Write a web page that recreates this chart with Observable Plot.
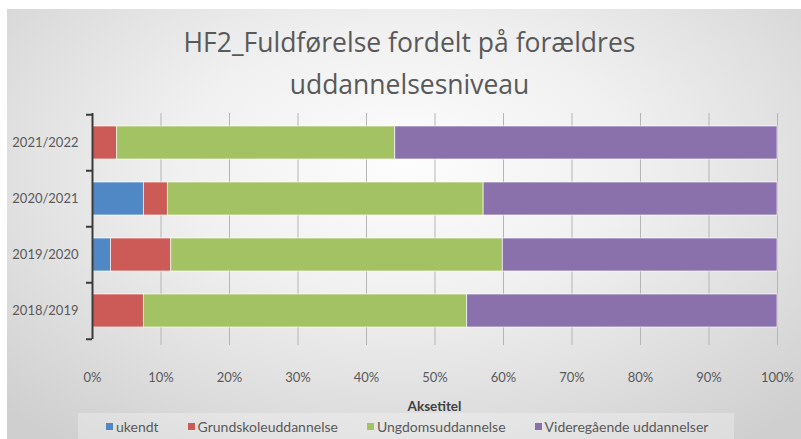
<!DOCTYPE html>
<html>
<head>
<meta charset="utf-8">
<script src="https://cdn.jsdelivr.net/npm/d3@7"></script>
<script src="https://cdn.jsdelivr.net/npm/@observablehq/plot@0.6"></script>
<style>
  html, body { margin: 0; padding: 0; background: #ffffff; }
  #wrap { position: relative; width: 801px; height: 439px; overflow: hidden; background: #fff; font-family: Lato, "Liberation Sans", sans-serif; }
  #bg { position: absolute; left: 7px; top: 9px; right: 0; bottom: 0;
        background: radial-gradient(ellipse 72% 80% at 50% 36%, #fdfdfd 0%, #f0f0f0 40%, #cfcfcf 100%); }
  #chart { position: absolute; left: 0; top: 0; }
  #title { position: absolute; left: 9px; width: 801px; top: 21px; text-align: center; font-family: "Open Sans", Lato, sans-serif; font-size: 26.5px; line-height: 42px; color: #595959; }
  #xlabel { position: absolute; left: 92px; width: 685px; top: 398px; text-align: center; font-size: 13.5px; font-weight: bold; color: #404040; }
  #legend { position: absolute; left: 78px; top: 413px; width: 656px; height: 26px; background: rgba(255,255,255,0.28); }
  #legend .items { position: absolute; left: 28px; top: 5px; display: flex; gap: 29px; font-size: 14px; color: #595959; white-space: nowrap; }
  #legend .item { display: flex; align-items: center; gap: 3px; }
  #legend .sw { width: 7px; height: 7px; display: inline-block; }
</style>
</head>
<body>
<div id="wrap">
  <div id="bg"></div>
  <div id="chart"></div>
  <div id="title">HF2_Fuldførelse fordelt på forældres<br>uddannelsesniveau</div>
  <div id="xlabel">Aksetitel</div>
  <div id="legend"><div class="items"></div></div>
</div>
<script>
// Categories (top to bottom)
const years = ["2021/2022", "2020/2021", "2019/2020", "2018/2019"];
// Series (stack order, left to right)
const series = ["ukendt", "Grundskoleuddannelse", "Ungdomsuddannelse", "Videregående uddannelser"];
const colors = ["#5088c6", "#cc5a57", "#a3c264", "#8a71ab"];
// Values in percent, same order as years
const ukendt = [0, 7.5, 2.7, 0];
const grundskole = [3.6, 3.5, 8.8, 7.5];
const ungdom = [40.6, 46.1, 48.4, 47.2];
const videregaaende = [55.8, 42.9, 40.1, 45.3];
// Tick labels for the x axis
const xTicks = [0, 10, 20, 30, 40, 50, 60, 70, 80, 90, 100];

const valuesBySeries = [ukendt, grundskole, ungdom, videregaaende];
const data = [];
series.forEach((s, si) => {
  years.forEach((y, yi) => {
    data.push({ year: y, series: s, value: valuesBySeries[si][yi] });
  });
});

const plot = Plot.plot({
  width: 801,
  height: 439,
  marginLeft: 92,
  marginRight: 24,
  marginTop: 113,
  marginBottom: 100,
  style: { background: "transparent", fontFamily: "Lato, 'Liberation Sans', sans-serif", fontSize: "13px", color: "#595959" },
  x: { domain: [0, 100] },
  y: { domain: years, paddingInner: 0.416, paddingOuter: 0.208 },
  color: { domain: series, range: colors },
  marks: [
    Plot.ruleX(xTicks.slice(1), { x: d => d, stroke: "#b5b5b5", strokeWidth: 1, insetBottom: -6 }),
    Plot.barX(data, Plot.stackX({
      x: "value", y: "year", fill: "series", order: series,
      filter: d => d.value > 0,
      stroke: "#ffffff", strokeWidth: 0.8, strokeOpacity: 0.8
    })),
    Plot.ruleX([0], { x: d => d, stroke: "#3a3a3a", strokeWidth: 2 }),
    Plot.ruleY(years, { y: d => d, x1: 0, x2: 0, insetLeft: -6, dy: -28.25, stroke: "#3a3a3a", strokeWidth: 2 }),
    Plot.ruleY(years.slice(-1), { y: d => d, x1: 0, x2: 0, insetLeft: -6, dy: 28.25, stroke: "#3a3a3a", strokeWidth: 2 }),
    Plot.axisY({ tickSize: 0, tickPadding: 14, label: null, fontSize: 13, fill: "#595959" }),
    Plot.axisX({ ticks: xTicks, tickSize: 0, tickPadding: 33, tickFormat: d => d + "%", label: null, fontSize: 13, fill: "#595959" })
  ]
});
document.getElementById("chart").appendChild(plot);

const items = document.querySelector("#legend .items");
series.forEach((s, i) => {
  const el = document.createElement("span");
  el.className = "item";
  el.innerHTML = `<span class="sw" style="background:${colors[i]}"></span><span>${s}</span>`;
  items.appendChild(el);
});
</script>
</body>
</html>
